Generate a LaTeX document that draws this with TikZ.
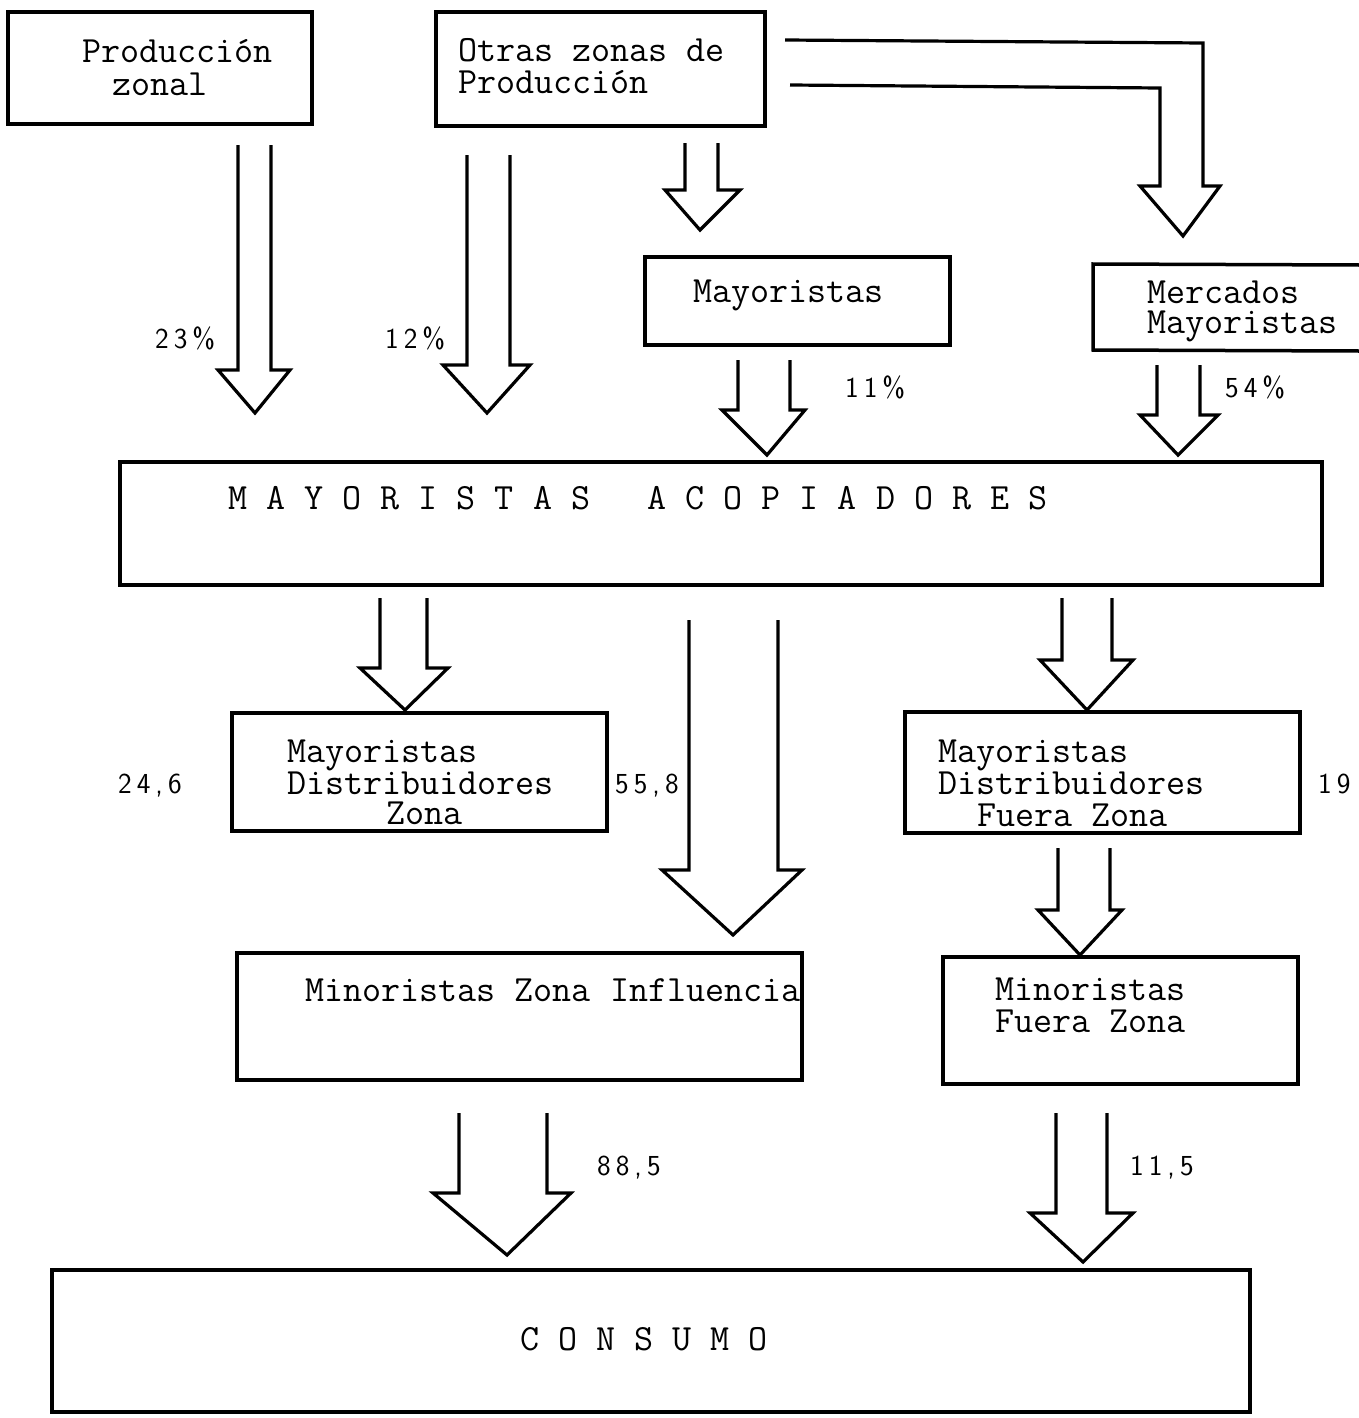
\documentclass[tikz,border=0pt]{standalone}
\newcommand\spc{\hspace{5pt}}
\newcommand\twfont[1]{\fontsize{37}{#1}\selectfont\ttfamily\fontdimen3\font=0pt\fontdimen4\font=0pt\relax}
\begin{document}
\begin{tikzpicture}[x=1pt,y=-1pt,
  box/.style={draw, line width=3.5pt, inner sep=0pt, outer sep=0pt, anchor=north west},
  txt/.style={anchor=base west, inner sep=0pt, font=\twfont{40}},
  mtxt/.style={anchor=base west, inner sep=0pt, text width=420pt, align=left, font=\twfont{#1},
    execute at begin node={\spaceskip=\fontdimen2\font\xspaceskip=\fontdimen2\font\relax}},
  num/.style={anchor=base west, inner sep=0pt, font=\fontsize{29}{32}\selectfont\sffamily},
  blk/.style={draw, line width=3.2pt, line join=miter}]
\useasboundingbox (0,0) rectangle (1359,1418);
\newcommand\blkarrow[8]{% xl xr ytop yhead hl hr tipx tipy
  \draw[blk] (#1,#3) -- (#1,#4) -- (#5,#4) -- (#7,#8) -- (#6,#4) -- (#2,#4) -- (#2,#3);}

% boxes
\node[box, minimum width=304pt, minimum height=112pt] (pz) at (8,12) {};
\node[box, minimum width=329pt, minimum height=114pt] (oz) at (436,12) {};
\node[box, minimum width=305pt, minimum height=88pt] (may) at (645,257) {};
\coordinate (mercTL) at (1093,264);
\coordinate (mercBL) at (1093,350);
\draw[line width=3.5pt] (1359,265) -- (mercTL) -- (mercBL) -- (1359,351);
\node[box, minimum width=1202pt, minimum height=123pt] (aco) at (120,462) {};
\node[box, minimum width=375pt, minimum height=118pt] (mdz) at (232,713) {};
\node[box, minimum width=395pt, minimum height=121pt] (mdfz) at (905,712) {};
\node[box, minimum width=565pt, minimum height=127pt] (mzi) at (237,953) {};
\node[box, minimum width=355pt, minimum height=127pt] (mfz) at (943,957) {};
\node[box, minimum width=1198pt, minimum height=142pt] (con) at (52,1270) {};

% texts
\node[mtxt=33] (t1) at (82,63) {Producción\\\hspace*{30pt}zonal};
\node[mtxt=32] (t3) at (458,62) {Otras zonas de\\Producción};
\node[txt] (t5) at (693,302) {Mayoristas};
\node[mtxt=30] (t6) at (1147,303) {Mercados\\Mayoristas};
\node[txt] (t8) at (228,509) {M~A~Y~O~R~I~S~T~A~S~~~A~C~O~P~I~A~D~O~R~E~S};
\node[mtxt=30.5] (t9) at (287,762) {Mayoristas\\Distribuidores\\\hspace*{99pt}Zona};
\node[mtxt=32] (t12) at (938,762) {Mayoristas\\Distribuidores\\\hspace*{39pt}Fuera Zona};
\node[txt] (t15) at (305,1001) {Minoristas~Zona~Influencia};
\node[mtxt=32] (t16) at (995,1000) {Minoristas\\Fuera Zona};
\node[txt] (t18) at (520,1350) {C~O~N~S~U~M~O};

% numbers
\node[num] (n1) at (155,348) {2\spc3\spc\%};
\node[num] (n2) at (385,348) {1\spc2\spc\%};
\node[num] (n3) at (845,397) {1\spc1\spc\%};
\node[num] (n4) at (1225,397) {5\spc4\spc\%};
\node[num] (n5) at (118,793) {2\spc4\spc,\spc6};
\node[num] (n6) at (615,793) {5\spc5\spc,\spc8};
\node[num] (n7) at (1318,793) {1\spc9};
\node[num] (n8) at (597,1175) {8\spc8\spc,\spc5};
\node[num] (n9) at (1130,1175) {1\spc1\spc,\spc5};

% block arrows
\blkarrow{238}{271}{145}{370}{218}{290}{255}{413}
\blkarrow{467}{510}{155}{365}{443}{530}{487}{413}
\blkarrow{685}{718}{143}{190}{665}{740}{700}{230}
\draw[blk] (785,40) -- (1203,43) -- (1203,186) -- (1220,186) -- (1183,236)
  -- (1140,186) -- (1160,186) -- (1160,88) -- (790,85);
\blkarrow{738}{790}{360}{410}{722}{805}{767}{455}
\blkarrow{1157}{1200}{365}{415}{1140}{1218}{1178}{455}
\blkarrow{380}{427}{598}{668}{360}{448}{405}{710}
\blkarrow{689}{778}{620}{870}{662}{802}{733}{935}
\blkarrow{1062}{1112}{598}{660}{1040}{1133}{1087}{710}
\blkarrow{1058}{1110}{848}{910}{1038}{1122}{1080}{955}
\blkarrow{459}{547}{1113}{1193}{433}{571}{507}{1255}
\blkarrow{1056}{1107}{1113}{1213}{1030}{1133}{1083}{1262}
\end{tikzpicture}
\end{document}
